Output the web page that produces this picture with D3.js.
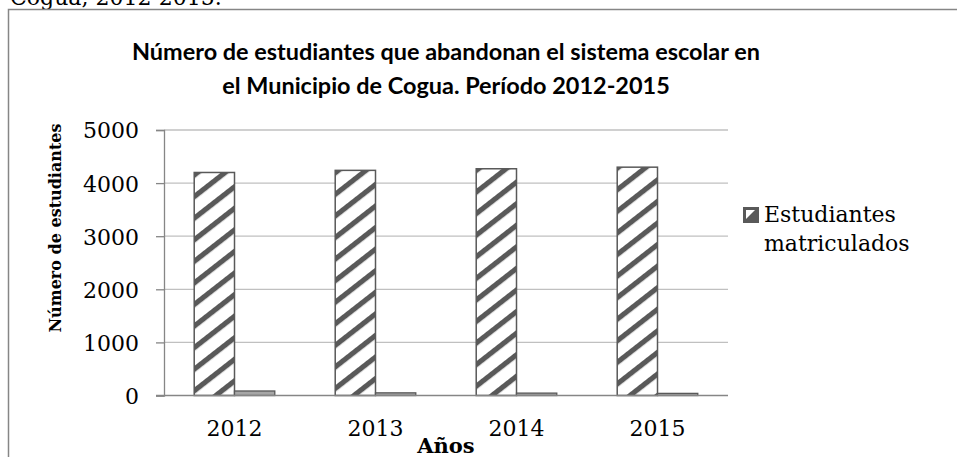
<!DOCTYPE html>
<html>
<head>
<meta charset="utf-8">
<script src="https://cdn.jsdelivr.net/npm/d3@7/dist/d3.min.js"></script>
<style>
  html, body { margin: 0; padding: 0; background: #fff; }
  svg { display: block; }
</style>
</head>
<body>
<svg id="chart" width="957" height="457"></svg>
<script>
// ---- data ----
const years = ["2012", "2013", "2014", "2015"];
const matriculados = [4200, 4240, 4270, 4300];
const abandonan = [85, 50, 45, 40];
const yTicks = [0, 1000, 2000, 3000, 4000, 5000];
const seriesNames = ["Estudiantes matriculados", "Estudiantes que abandonan"];
const titleLines = ["Número de estudiantes que abandonan el sistema escolar en",
                    "el Municipio de Cogua. Período 2012-2015"];
const xTitle = "Años";
const yTitle = "Número de estudiantes";
const aboveText = "Cogua, 2012-2015.";

const svg = d3.select("#chart");
const serif = "'DejaVu Serif', serif";
const dark = "#595959";

// pattern
const defs = svg.append("defs");
const pat = defs.append("pattern")
  .attr("id", "stripes")
  .attr("patternUnits", "userSpaceOnUse")
  .attr("width", 17).attr("height", 20)
  .attr("patternTransform", "rotate(52)");
pat.append("rect").attr("width", 17).attr("height", 20).attr("fill", "#fff");
pat.append("rect").attr("width", 5.2).attr("height", 20).attr("fill", dark);

// text above the chart (clipped by the page top, as in the reference)
svg.append("text").attr("x", 10).attr("y", 5)
  .attr("font-family", serif).attr("font-size", 22).attr("fill", "#000")
  .text(aboveText);

// outer frame
svg.append("rect").attr("x", 8.5).attr("y", 9.5).attr("width", 960).attr("height", 470)
  .attr("fill", "none").attr("stroke", "#868686").attr("stroke-width", 1.5);

// scales
const plotL = 164, plotR = 728, plotT = 130, plotB = 395.5;
const x = d3.scaleBand().domain(years).range([plotL, plotR]).padding(0);
const y = d3.scaleLinear().domain([0, 5000]).range([plotB, plotT]);
const barW = x.bandwidth() / 3.5;

// gridlines
svg.append("g").selectAll("line").data(yTicks.filter(d => d > 0)).join("line")
  .attr("x1", plotL).attr("x2", plotR)
  .attr("y1", d => y(d)).attr("y2", d => y(d))
  .attr("stroke", "#c0c0c0").attr("stroke-width", 1.3);

// y axis
const yAxis = d3.axisLeft(y).tickValues(yTicks).tickSize(8).tickPadding(17).tickFormat(d3.format("d"));
const gy = svg.append("g").attr("transform", `translate(${plotL},0)`).call(yAxis);
gy.select(".domain").attr("stroke", "#868686").attr("stroke-width", 1.3);
gy.selectAll(".tick line").attr("stroke", "#868686").attr("stroke-width", 1.3);
gy.selectAll(".tick text").attr("font-family", serif).attr("font-size", 22).attr("fill", "#000").attr("dy", "0.36em");

// bars: matriculados
svg.append("g").selectAll("rect").data(matriculados).join("rect")
  .attr("x", (d, i) => x(years[i]) + x.bandwidth() / 2 - barW)
  .attr("y", d => y(d))
  .attr("width", barW)
  .attr("height", d => plotB - y(d))
  .attr("fill", "url(#stripes)").attr("stroke", dark).attr("stroke-width", 1.5);

// bars: abandonan
svg.append("g").selectAll("rect").data(abandonan).join("rect")
  .attr("x", (d, i) => x(years[i]) + x.bandwidth() / 2)
  .attr("y", d => y(d))
  .attr("width", barW)
  .attr("height", d => plotB - y(d))
  .attr("fill", "#a6a6a6").attr("stroke", dark).attr("stroke-width", 1.3);

// x axis
const xAxis = d3.axisBottom(x).tickSize(0).tickPadding(25);
const gx = svg.append("g").attr("transform", `translate(0,${plotB})`).call(xAxis);
gx.select(".domain").attr("stroke", "#868686").attr("stroke-width", 1.3).attr("d", `M${plotL - 8},0H${plotR}`);
gx.selectAll(".tick text").attr("font-family", serif).attr("font-size", 22).attr("fill", "#000");

// axis titles
svg.append("text").attr("x", 446).attr("y", 453).attr("text-anchor", "middle")
  .attr("font-family", serif).attr("font-weight", "bold").attr("font-size", 21).text(xTitle);
svg.append("text").attr("transform", "translate(61,228) rotate(-90)").attr("text-anchor", "middle")
  .attr("font-family", serif).attr("font-weight", "bold").attr("font-size", 16).text(yTitle);

// title
const tg = svg.append("g").attr("font-family", "Lato, 'Open Sans', sans-serif").attr("font-weight", "bold").attr("fill", "#000");
const t1 = tg.append("text").attr("x", 446).attr("y", 60).attr("text-anchor", "middle").attr("font-size", 22).text(titleLines[0]);
const w1 = t1.node().getComputedTextLength();
const fs = 22 * 628 / w1;
t1.attr("font-size", fs);
tg.append("text").attr("x", 446).attr("y", 94).attr("text-anchor", "middle").attr("font-size", fs).text(titleLines[1]);

// legend
const lg = svg.append("g");
lg.append("rect").attr("x", 743.5).attr("y", 207.5).attr("width", 15).attr("height", 15)
  .attr("fill", dark).attr("stroke", dark);
lg.append("path").attr("d", "M746,210H755L746,219Z").attr("fill", "#fff");
const words = seriesNames[0].split(" ");
lg.append("text").attr("x", 764).attr("y", 222).attr("font-family", serif).attr("font-size", 22).text(words[0]);
lg.append("text").attr("x", 764).attr("y", 251).attr("font-family", serif).attr("font-size", 22).text(words[1]);
</script>
</body>
</html>
